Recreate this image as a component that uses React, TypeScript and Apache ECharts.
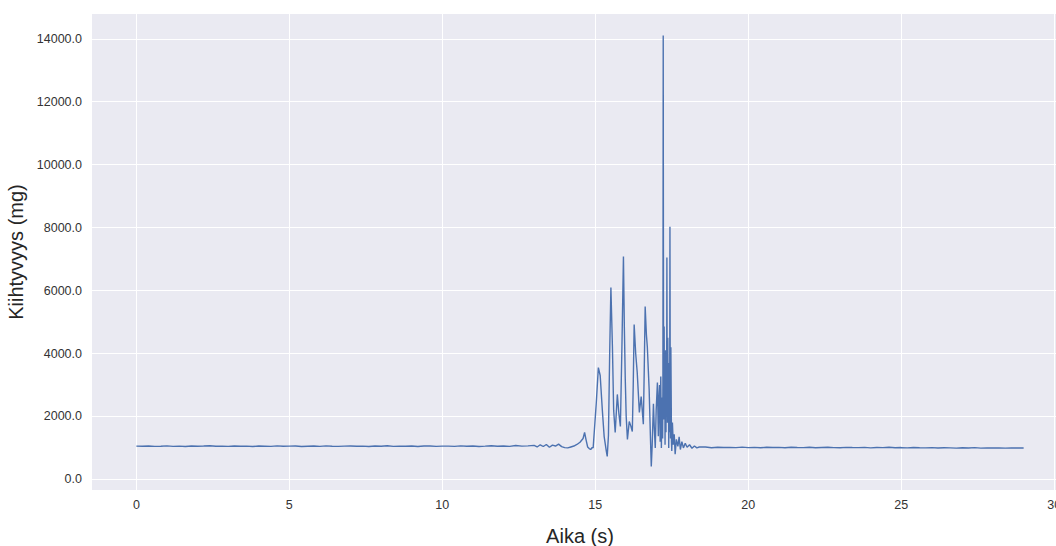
import React, { useEffect, useRef } from "react";
import * as echarts from "echarts";

// Resting signal before the event, sampled every 0.2 s starting at 0 s (mg)
const restBeforeStart = 0;
const restBeforeStep = 0.2;
const restBeforeValues = [
  1058, 1052, 1061, 1049, 1055, 1066, 1050, 1057, 1047, 1063,
  1054, 1059, 1070, 1051, 1056, 1048, 1062, 1053, 1058, 1045,
  1060, 1055, 1049, 1064, 1052, 1057, 1061, 1046, 1055, 1059,
  1050, 1066, 1053, 1048, 1058, 1062, 1051, 1056, 1044, 1060,
  1054, 1068, 1049, 1057, 1052, 1061, 1047, 1059, 1063, 1050,
  1056, 1058, 1049, 1065, 1053, 1060, 1046, 1058, 1071, 1052,
  1062, 1048, 1075, 1056, 1066,
];

// Onset wobble leading into the impact (s, mg)
const onsetTimes = [
  13.0, 13.1, 13.2, 13.3, 13.4, 13.5, 13.6, 13.7, 13.8, 13.9, 14.0, 14.1,
  14.2, 14.3, 14.4, 14.5, 14.6, 14.65, 14.7, 14.75, 14.8, 14.85, 14.9,
];
const onsetValues = [
  1080, 1030, 1100, 1045, 1110, 1020, 1090, 1060, 1120, 1040, 1010, 1000,
  1030, 1060, 1110, 1180, 1300, 1490, 1250, 1030, 980, 950, 1020,
];

// Impact burst (s, mg)
const burstTimes = [
  14.93, 15.03, 15.1, 15.16, 15.23, 15.29, 15.36, 15.39, 15.43, 15.47,
  15.51, 15.56, 15.6, 15.65, 15.72, 15.77, 15.82, 15.87, 15.92, 15.95,
  15.98, 16.01, 16.05, 16.11, 16.16, 16.21, 16.24, 16.27, 16.32, 16.37,
  16.44, 16.5, 16.57, 16.6, 16.63, 16.67, 16.7, 16.76, 16.8, 16.83,
  16.86, 16.9, 16.93, 16.96, 16.99, 17.03, 17.06, 17.08, 17.1, 17.12,
  17.14, 17.16, 17.18,
];
const burstValues = [
  1000, 2400, 3550, 3300, 2200, 1360, 900, 730, 1400, 4000,
  6100, 4200, 2200, 1490, 2700, 2100, 1680, 4200, 7080, 4800,
  3170, 2000, 1270, 1840, 1700, 1520, 3000, 4920, 4000, 3400,
  2130, 2630, 1750, 3500, 5490, 4600, 4220, 2860, 1400, 410,
  1100, 2400, 1600, 1000, 2200, 3080, 1370, 2600, 3000, 1200,
  3270, 1000, 2600,
];

// Dense cluster around the main peak (s, mg)
const clusterTimes = [
  17.2, 17.21, 17.22, 17.23, 17.24, 17.25, 17.26, 17.27, 17.28, 17.29,
  17.3, 17.31, 17.32, 17.33, 17.34, 17.35, 17.36, 17.37, 17.38, 17.39,
  17.4, 17.41, 17.42, 17.43, 17.44, 17.45, 17.46, 17.47, 17.48, 17.49,
  17.5,
];
const clusterValues = [
  1300, 3000, 14100, 4200, 1900, 4860, 2500, 3900, 1100, 3300,
  4100, 1500, 3800, 2000, 7050, 3000, 1800, 4500, 2600, 3700,
  1000, 3000, 3600, 1500, 8030, 2500, 1300, 4200, 2800, 1200,
  900,
];

// Decay back to rest (s, mg)
const decayTimes = [
  17.52, 17.55, 17.58, 17.61, 17.65, 17.7, 17.74, 17.78, 17.83, 17.88,
  17.94, 18.0, 18.08, 18.16, 18.24, 18.32, 18.4,
];
const decayValues = [
  1810, 1100, 1430, 800, 1270, 1050, 1350, 950, 1200, 1000,
  1150, 1020, 1100, 990, 1060, 1000, 1030,
];

// Resting signal after the event, sampled every 0.2 s starting at 18.6 s (mg)
const restAfterStart = 18.6;
const restAfterStep = 0.2;
const restAfterValues = [
  1030, 1005, 1022, 1012, 1018, 1008, 1025, 1010, 1016, 1004,
  1020, 1011, 1017, 1006, 1023, 1013, 1009, 1019, 1007, 1015,
  1021, 1010, 1004, 1018, 1012, 1008, 1016, 1002, 1014, 1009,
  1019, 1005, 1011, 1000, 1013, 1007, 1003, 1010, 998, 1006,
  1001, 995, 1004, 999, 1008, 994, 1002, 997, 1003, 992,
  1000, 996, 999,
];

const xTickStep = 5;
const yTickStep = 2000;

function buildSeries(): [number, number][] {
  const pts: [number, number][] = [];
  restBeforeValues.forEach((v, i) =>
    pts.push([+(restBeforeStart + i * restBeforeStep).toFixed(3), v])
  );
  onsetTimes.forEach((t, i) => pts.push([t, onsetValues[i]]));
  burstTimes.forEach((t, i) => pts.push([t, burstValues[i]]));
  clusterTimes.forEach((t, i) => pts.push([t, clusterValues[i]]));
  decayTimes.forEach((t, i) => pts.push([t, decayValues[i]]));
  restAfterValues.forEach((v, i) =>
    pts.push([+(restAfterStart + i * restAfterStep).toFixed(3), v])
  );
  return pts;
}

export default function App() {
  const ref = useRef<HTMLDivElement>(null);

  useEffect(() => {
    if (!ref.current) return;
    const chart = echarts.init(ref.current, null, { renderer: "svg" });
    const font = "'Liberation Sans', Arial, sans-serif";
    chart.setOption({
      animation: false,
      backgroundColor: "#ffffff",
      grid: {
        show: true,
        left: 92,
        right: 0,
        top: 14,
        bottom: 56,
        outerBoundsMode: "none",
        backgroundColor: "#EAEAF2",
        borderWidth: 0,
        containLabel: false,
      },
      xAxis: {
        type: "value",
        min: -1.45,
        max: 30.45,
        minInterval: xTickStep,
        maxInterval: xTickStep,
        name: "Aika (s)",
        nameLocation: "middle",
        nameGap: 36,
        nameTextStyle: { fontSize: 20, color: "#262626", fontFamily: font },
        axisLine: { show: false },
        axisTick: { show: false },
        axisLabel: {
          color: "#333333",
          fontSize: 12.5,
          fontFamily: font,
          margin: 8,
          showMinLabel: false,
          showMaxLabel: false,
        },
        splitLine: {
          show: true,
          showMinLine: false,
          showMaxLine: false,
          lineStyle: { color: "#ffffff", width: 1 },
        },
      },
      yAxis: {
        type: "value",
        min: -337,
        max: 14787,
        minInterval: yTickStep,
        maxInterval: yTickStep,
        name: "Kiihtyvyys (mg)",
        nameLocation: "middle",
        nameGap: 56,
        nameRotate: 90,
        nameTextStyle: { fontSize: 20, color: "#262626", fontFamily: font },
        axisLine: { show: false },
        axisTick: { show: false },
        axisLabel: {
          color: "#333333",
          fontSize: 12.5,
          fontFamily: font,
          margin: 10,
          showMinLabel: false,
          showMaxLabel: false,
          formatter: (v: number) => v.toFixed(1),
        },
        splitLine: {
          show: true,
          showMinLine: false,
          showMaxLine: false,
          lineStyle: { color: "#ffffff", width: 1 },
        },
      },
      series: [
        {
          type: "line",
          data: buildSeries(),
          showSymbol: false,
          symbol: "none",
          lineStyle: { color: "#4C72B0", width: 1.4 },
          itemStyle: { color: "#4C72B0" },
        },
      ],
    });
    return () => chart.dispose();
  }, []);

  // The plot runs a little past the right edge of the frame, so the chart
  // is drawn wider than its clipping box.
  return (
    <div
      style={{
        position: "fixed",
        left: 0,
        top: 0,
        width: 1056,
        height: 546,
        overflow: "hidden",
      }}
    >
      <div ref={ref} style={{ width: 1068, height: 546 }} />
    </div>
  );
}
